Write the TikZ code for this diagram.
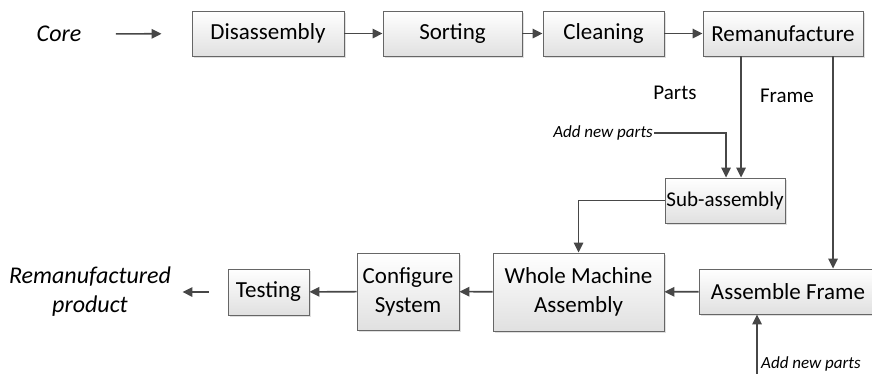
\documentclass[tikz,border=0pt]{standalone}
\usepackage{fontspec}
\setmainfont{Carlito}
\usepackage{xcolor}
\usepackage{tikz}
\usetikzlibrary{arrows.meta}
\usetikzlibrary{shadows}
\colorlet{lgray}{black!72}
\tikzstyle{blkhead}=[>/.tip={Triangle[length=10pt,width=9.5pt]}]
\tikzstyle{blk}=[draw=black!60,line width=.9pt,top color=white,bottom color=black!12,
  drop shadow={shadow xshift=2pt,shadow yshift=-2pt,fill=black!25},
  minimum height=45pt,inner xsep=0.5pt,inner ysep=2pt,font=\fontsize{23}{29}\selectfont,align=center]
\tikzstyle{fl}=[draw=lgray,line width=1.6pt,blkhead,->]
\tikzstyle{lbl}=[font=\fontsize{21}{25}\selectfont]
\tikzstyle{ilbl}=[font=\fontsize{24}{29}\selectfont\itshape,align=center]
\tikzstyle{slbl}=[font=\fontsize{17}{20}\selectfont\itshape,inner sep=1pt]
\begin{document}
\begin{tikzpicture}[x=1pt,y=-1pt]
	\useasboundingbox (0,0) rectangle (872,373);
	\clip (0,0) rectangle (872,373);
	% top row
	\node[ilbl] (core) at (59,34) {Core};
	\node[blk,minimum width=152pt] (dis) at (268,33.5) {Disassembly};
	\node[blk,minimum width=139pt] (sort) at (452.5,33.5) {Sorting};
	\node[blk,minimum width=121pt] (clean) at (603.5,33.5) {Cleaning};
	\node[blk,minimum width=160pt] (reman) at (783,33.5) {Remanufacture};
	% middle
	\node[lbl] (parts) at (675,93) {Parts};
	\node[lbl] (frm) at (787,96) {Frame};
	\node[slbl,anchor=east] (add1) at (654,133) {Add new parts};
	\node[blk,minimum width=120pt,font=\fontsize{21}{26}\selectfont] (sub) at (725,200.5) {Sub-assembly};
	% bottom row
	\node[blk,minimum width=178pt] (frame) at (788,291.5) {Assemble Frame};
	\node[blk,minimum width=171pt,minimum height=78pt] (whole) at (578.5,292) {Whole Machine\\Assembly};
	\node[blk,minimum width=102pt,minimum height=77pt] (conf) at (408,291.5) {Configure\\System};
	\node[blk,minimum width=81pt,minimum height=46pt] (test) at (268.5,292) {Testing};
	\node[ilbl] (prod) at (90,292) {Remanufactured\\product};
	\node[slbl,anchor=base west] (add2) at (760,368) {Add new parts};
	\coordinate (in2) at (757,380);
	% flow
	\draw[fl,shorten <=31pt,shorten >=30pt] (core) -- (dis);
	\draw[fl] (dis) -- (sort);
	\draw[fl] (sort) -- (clean);
	\draw[fl] (clean) -- (reman);
	\draw[fl] ([xshift=-42pt]reman.south) -- ([xshift=16pt]sub.north);
	\draw[fl] ([xshift=50pt]reman.south) -- ([xshift=45pt]frame.north);
	\draw[fl] (add1.east) -| ([xshift=1pt]sub.north);
	\draw[fl] (sub.west) -| (whole.north);
	\draw[fl] (frame) -- (whole);
	\draw[fl] (whole) -- (conf);
	\draw[fl] (conf) -- (test);
	\draw[fl,shorten <=19pt,shorten >=8pt] (test) -- (prod);
	\draw[fl] (in2) -- (in2 |- frame.south);
\end{tikzpicture}
\end{document}
